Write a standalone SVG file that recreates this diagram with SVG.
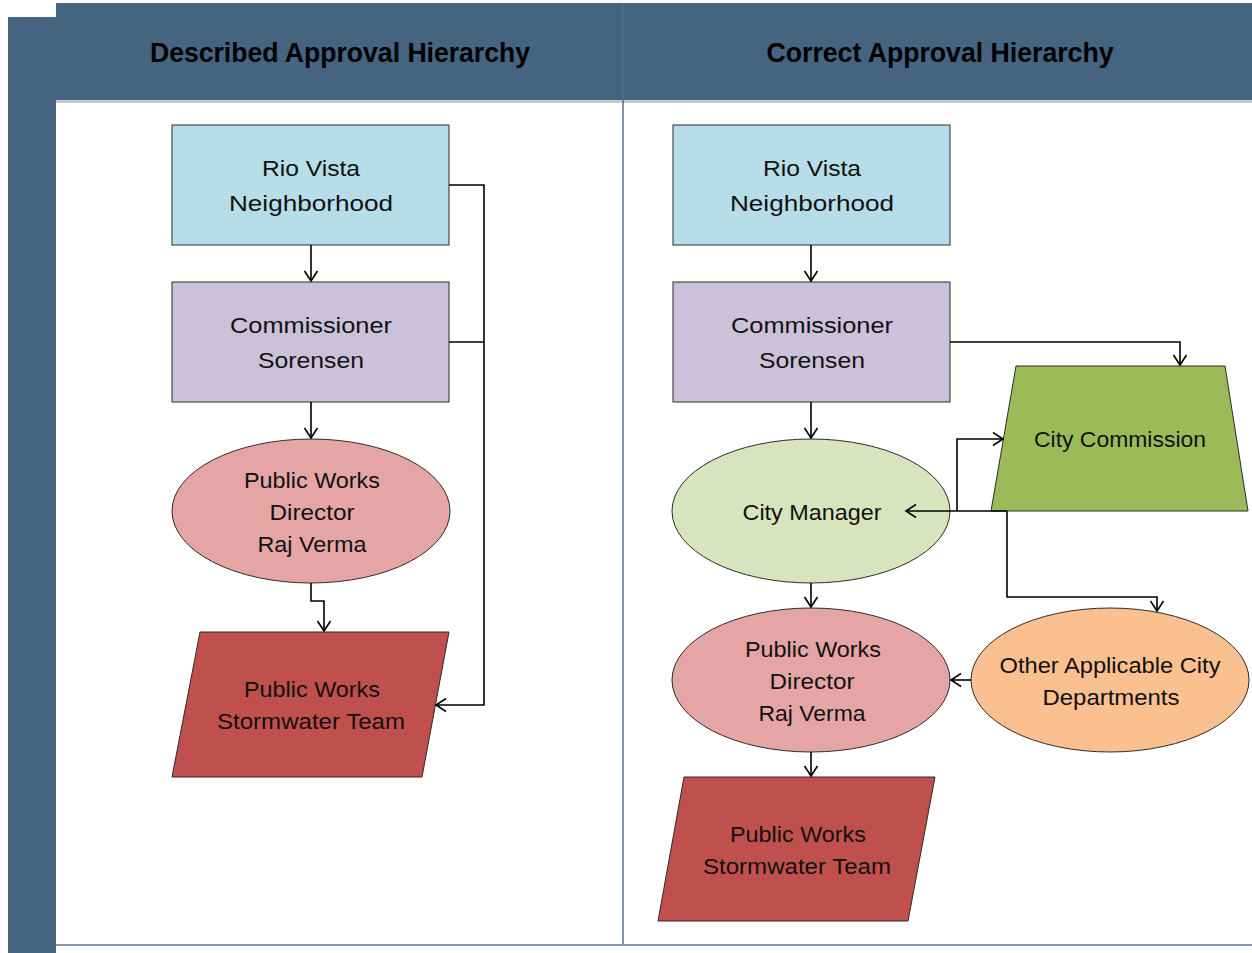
<svg xmlns="http://www.w3.org/2000/svg" width="1252" height="953" viewBox="0 0 1252 953">
<style>
.hd{font-family:"Liberation Sans",Arial,sans-serif;font-weight:bold;font-size:27px;fill:#000;text-anchor:middle}
.t{font-family:"Liberation Sans",Arial,sans-serif;font-size:22px;fill:#111;text-anchor:middle}
.n{stroke:#2b2b2b;stroke-width:1}
.c{fill:none;stroke:#000;stroke-width:1.6}
</style>
<defs>
<marker id="a" markerUnits="userSpaceOnUse" markerWidth="14" markerHeight="16" refX="11" refY="7.5" orient="auto">
<path d="M1,1 L11,7.5 L1,14" fill="none" stroke="#000" stroke-width="1.6"/>
</marker>
</defs>
<rect x="0" y="0" width="1252" height="953" fill="#fff"/>
<g id="frame">
<rect x="8" y="17" width="48" height="936" fill="#44647f"/>
<rect x="56" y="3" width="1196" height="97" fill="#44647f"/>
<rect x="56" y="100" width="1196" height="3" fill="#c9c9c9"/>
<line x1="623" y1="3" x2="623" y2="945" stroke="#566e84" stroke-width="1.5"/>
<line x1="56" y1="945" x2="1252" y2="945" stroke="#8597a8" stroke-width="2"/>
<text class="hd" x="340" y="62" textLength="380" lengthAdjust="spacingAndGlyphs">Described Approval Hierarchy</text>
<text class="hd" x="940" y="62" textLength="347" lengthAdjust="spacingAndGlyphs">Correct Approval Hierarchy</text>
</g>
<g id="L-rio">
<rect class="n" x="172" y="125" width="277" height="120" fill="#b7dde8"/>
<text class="t" x="311" y="176" textLength="98" lengthAdjust="spacingAndGlyphs">Rio Vista</text>
<text class="t" x="311" y="211" textLength="164" lengthAdjust="spacingAndGlyphs">Neighborhood</text>
</g>
<g id="L-comm">
<rect class="n" x="172" y="282" width="277" height="120" fill="#ccc1da"/>
<text class="t" x="311" y="333" textLength="162" lengthAdjust="spacingAndGlyphs">Commissioner</text>
<text class="t" x="311" y="368" textLength="106" lengthAdjust="spacingAndGlyphs">Sorensen</text>
</g>
<g id="L-pwd">
<ellipse class="n" cx="311" cy="511" rx="139" ry="72" fill="#e6a5a5"/>
<text class="t" x="312" y="488" textLength="136" lengthAdjust="spacingAndGlyphs">Public Works</text>
<text class="t" x="312" y="520" textLength="85" lengthAdjust="spacingAndGlyphs">Director</text>
<text class="t" x="312" y="552" textLength="109" lengthAdjust="spacingAndGlyphs">Raj Verma</text>
</g>
<g id="L-team">
<polygon class="n" points="200,632 449,632 422,777 172,777" fill="#c0504d"/>
<text class="t" x="312" y="697" textLength="136" lengthAdjust="spacingAndGlyphs">Public Works</text>
<text class="t" x="311" y="729" textLength="188" lengthAdjust="spacingAndGlyphs">Stormwater Team</text>
</g>
<g id="R-rio">
<rect class="n" x="673" y="125" width="277" height="120" fill="#b7dde8"/>
<text class="t" x="812" y="176" textLength="98" lengthAdjust="spacingAndGlyphs">Rio Vista</text>
<text class="t" x="812" y="211" textLength="164" lengthAdjust="spacingAndGlyphs">Neighborhood</text>
</g>
<g id="R-comm">
<rect class="n" x="673" y="282" width="277" height="120" fill="#ccc1da"/>
<text class="t" x="812" y="333" textLength="162" lengthAdjust="spacingAndGlyphs">Commissioner</text>
<text class="t" x="812" y="368" textLength="106" lengthAdjust="spacingAndGlyphs">Sorensen</text>
</g>
<g id="R-citycomm">
<polygon class="n" points="1016,366 1225,366 1248,511 991,511" fill="#9bbb59"/>
<text class="t" x="1120" y="447" textLength="172" lengthAdjust="spacingAndGlyphs">City Commission</text>
</g>
<g id="R-mgr">
<ellipse class="n" cx="811" cy="511" rx="139" ry="72" fill="#d7e4bd"/>
<text class="t" x="812" y="520" textLength="139" lengthAdjust="spacingAndGlyphs">City Manager</text>
</g>
<g id="R-pwd">
<ellipse class="n" cx="811" cy="680" rx="139" ry="72" fill="#e6a5a5"/>
<text class="t" x="813" y="657" textLength="136" lengthAdjust="spacingAndGlyphs">Public Works</text>
<text class="t" x="812" y="689" textLength="85" lengthAdjust="spacingAndGlyphs">Director</text>
<text class="t" x="812" y="721" textLength="107" lengthAdjust="spacingAndGlyphs">Raj Verma</text>
</g>
<g id="R-other">
<ellipse class="n" cx="1110" cy="680" rx="139" ry="72" fill="#fac090"/>
<text class="t" x="1110" y="673" textLength="221" lengthAdjust="spacingAndGlyphs">Other Applicable City</text>
<text class="t" x="1111" y="705" textLength="137" lengthAdjust="spacingAndGlyphs">Departments</text>
</g>
<g id="R-team">
<polygon class="n" points="684,777 935,777 908,921 658,921" fill="#c0504d"/>
<text class="t" x="798" y="842" textLength="136" lengthAdjust="spacingAndGlyphs">Public Works</text>
<text class="t" x="797" y="874" textLength="188" lengthAdjust="spacingAndGlyphs">Stormwater Team</text>
</g>
<g id="connectors">
<path class="c" d="M311,245 V281" marker-end="url(#a)"/>
<path class="c" d="M311,402 V438" marker-end="url(#a)"/>
<path class="c" d="M311,583 V601 H324 V631" marker-end="url(#a)"/>
<path class="c" d="M449,185 H484 V705 H436" marker-end="url(#a)"/>
<path class="c" d="M449,342 H484"/>
<path class="c" d="M811,245 V281" marker-end="url(#a)"/>
<path class="c" d="M811,402 V438" marker-end="url(#a)"/>
<path class="c" d="M950,342 H1180 V365" marker-end="url(#a)"/>
<path class="c" d="M1007,511 H906" marker-end="url(#a)" stroke-width="2"/>
<path class="c" d="M957,511 V439 H1003" marker-end="url(#a)"/>
<path class="c" d="M1007,511 V597 H1157 V611" marker-end="url(#a)"/>
<path class="c" d="M971,680 H951" marker-end="url(#a)"/>
<path class="c" d="M811,583 V607" marker-end="url(#a)"/>
<path class="c" d="M811,752 V776" marker-end="url(#a)"/>
</g>
</svg>
